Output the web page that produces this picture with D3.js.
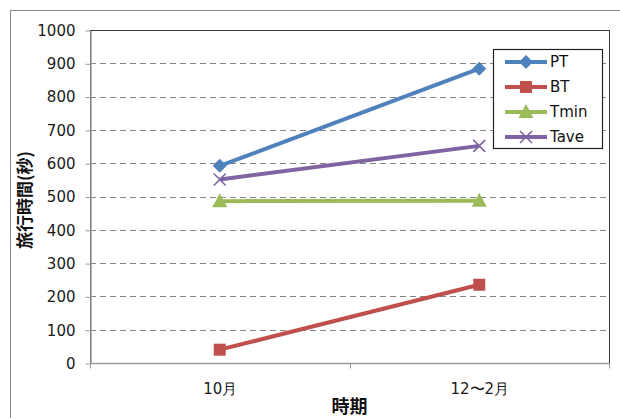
<!DOCTYPE html>
<html>
<head>
<meta charset="utf-8">
<script src="https://cdn.jsdelivr.net/npm/d3@7/dist/d3.min.js"></script>
<style>
  html, body { margin: 0; padding: 0; background: #fff; }
  svg { display: block; }
</style>
</head>
<body>
<script>
// Travel time by period
const periods = ["10月", "12〜2月"];
const seriesNames = ["PT", "BT", "Tmin", "Tave"];
const ptValues = [592, 884];
const btValues = [40, 235];
const tminValues = [486, 487];
const taveValues = [551, 652];
const yTicks = [0, 100, 200, 300, 400, 500, 600, 700, 800, 900, 1000];

const series = [
  { name: seriesNames[0], values: ptValues, color: "#4F81BD", marker: "diamond" },
  { name: seriesNames[1], values: btValues, color: "#C0504D", marker: "square" },
  { name: seriesNames[2], values: tminValues, color: "#9BBB59", marker: "triangle" },
  { name: seriesNames[3], values: taveValues, color: "#8064A2", marker: "cross" }
];

const W = 620, H = 418;
const plot = { left: 90, top: 30, right: 609, bottom: 363 };
const numFont = "'DejaVu Sans', Verdana, sans-serif";
const cjkFont = "'Noto Sans CJK JP', 'DejaVu Sans', sans-serif";

const svg = d3.select("body").append("svg")
  .attr("width", W).attr("height", H);

// outer chart frame
svg.append("rect")
  .attr("x", 10.5).attr("y", 10.5)
  .attr("width", 640).attr("height", 440)
  .attr("fill", "#fff").attr("stroke", "#8a8a8a").attr("stroke-width", 1);

const x = d3.scaleBand().domain(periods).range([plot.left, plot.right]);
const y = d3.scaleLinear().domain([0, 1000]).range([plot.bottom, plot.top]);

// dashed gridlines
svg.append("g").selectAll("line")
  .data(yTicks.filter(d => d > 0 && d < 1000))
  .join("line")
  .attr("x1", plot.left).attr("x2", plot.right)
  .attr("y1", d => Math.round(y(d)) + 0.5).attr("y2", d => Math.round(y(d)) + 0.5)
  .attr("stroke", "#858585").attr("stroke-width", 1)
  .attr("stroke-dasharray", "6,4");

// plot area border
svg.append("rect")
  .attr("x", plot.left + 0.5).attr("y", plot.top + 0.5)
  .attr("width", plot.right - plot.left).attr("height", plot.bottom - plot.top)
  .attr("fill", "none").attr("stroke", "#3a3a3a").attr("stroke-width", 1);

// y axis
const yAxis = svg.append("g")
  .attr("transform", `translate(${plot.left + 0.5},0.5)`)
  .call(d3.axisLeft(y).tickValues(yTicks).tickFormat(d3.format("d"))
    .tickSize(5).tickPadding(10).tickSizeOuter(0));
yAxis.select(".domain").attr("stroke", "#9a9a9a").attr("stroke-width", 1.5);
yAxis.selectAll(".tick line").attr("stroke", "#9a9a9a");
yAxis.selectAll(".tick text")
  .attr("font-family", numFont).attr("font-size", 15).attr("fill", "#1a1a1a");

// x axis with ticks on category boundaries
const xAxis = svg.append("g")
  .attr("transform", `translate(0.5,${plot.bottom + 0.5})`);
xAxis.append("line")
  .attr("x1", plot.left).attr("x2", plot.right)
  .attr("stroke", "#9a9a9a").attr("stroke-width", 1.5);
const bounds = [plot.left, ...periods.map(p => x(p) + x.bandwidth())];
xAxis.selectAll("line.tk").data(bounds).join("line")
  .attr("class", "tk")
  .attr("x1", d => Math.round(d)).attr("x2", d => Math.round(d))
  .attr("y1", 0).attr("y2", 5)
  .attr("stroke", "#9a9a9a");
xAxis.selectAll("text").data(periods).join("text")
  .attr("x", d => x(d) + x.bandwidth() / 2)
  .attr("y", 30)
  .attr("text-anchor", "middle")
  .attr("font-family", numFont).attr("font-size", 15).attr("fill", "#1a1a1a")
  .text(d => d);

// axis titles
svg.append("text")
  .attr("x", (plot.left + plot.right) / 2).attr("y", 413)
  .attr("text-anchor", "middle")
  .attr("font-family", cjkFont).attr("font-size", 18).attr("font-weight", "bold")
  .attr("fill", "#111")
  .text("時期");
svg.append("text")
  .attr("transform", "translate(31,200) rotate(-90)")
  .attr("text-anchor", "middle")
  .attr("font-family", cjkFont).attr("font-size", 17).attr("font-weight", "bold")
  .attr("fill", "#111")
  .text("旅行時間(秒)");

// marker shapes
function drawMarker(g, type, color, cx, cy) {
  if (type === "diamond") {
    g.append("path")
      .attr("d", `M${cx},${cy - 7}L${cx + 7},${cy}L${cx},${cy + 7}L${cx - 7},${cy}Z`)
      .attr("fill", color);
  } else if (type === "square") {
    g.append("rect")
      .attr("x", cx - 6).attr("y", cy - 6).attr("width", 12).attr("height", 12)
      .attr("fill", color);
  } else if (type === "triangle") {
    g.append("path")
      .attr("d", `M${cx},${cy - 8}L${cx + 7.5},${cy + 6}L${cx - 7.5},${cy + 6}Z`)
      .attr("fill", color);
  } else if (type === "cross") {
    g.append("path")
      .attr("d", `M${cx - 6},${cy - 6}L${cx + 6},${cy + 6}M${cx - 6},${cy + 6}L${cx + 6},${cy - 6}`)
      .attr("stroke", color).attr("stroke-width", 1.6).attr("fill", "none");
  }
}

// series lines and markers
const line = d3.line()
  .x((d, i) => x(periods[i]) + x.bandwidth() / 2)
  .y(d => y(d));

const seriesG = svg.append("g");
series.forEach(s => {
  seriesG.append("path")
    .attr("d", line(s.values))
    .attr("fill", "none").attr("stroke", s.color)
    .attr("stroke-width", 4).attr("stroke-linejoin", "round");
});
series.forEach(s => {
  s.values.forEach((v, i) => {
    drawMarker(seriesG, s.marker, s.color, x(periods[i]) + x.bandwidth() / 2, y(v));
  });
});

// legend
const legend = svg.append("g");
legend.append("rect")
  .attr("x", 493.5).attr("y", 49.5).attr("width", 109).attr("height", 99)
  .attr("fill", "#fff").attr("stroke", "#222").attr("stroke-width", 1.2);
series.forEach((s, i) => {
  const ly = 62 + i * 25;
  legend.append("line")
    .attr("x1", 505).attr("x2", 547).attr("y1", ly).attr("y2", ly)
    .attr("stroke", s.color).attr("stroke-width", 4);
  drawMarker(legend, s.marker, s.color, 526, ly);
  legend.append("text")
    .attr("x", 550).attr("y", ly + 5)
    .attr("font-family", numFont).attr("font-size", 15).attr("fill", "#111")
    .text(s.name);
});
</script>
</body>
</html>
